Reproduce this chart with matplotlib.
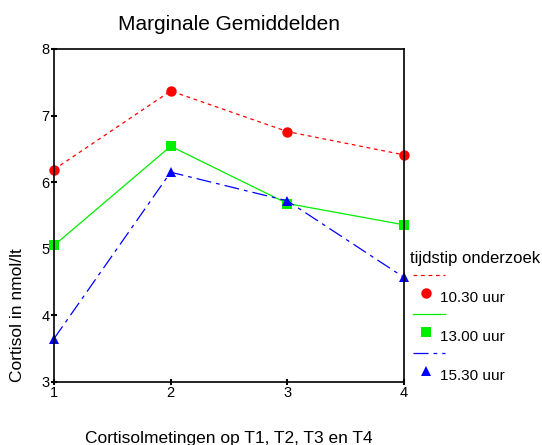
import matplotlib.pyplot as plt
from matplotlib.lines import Line2D

metingen = [1, 2, 3, 4]
uur_1030 = [6.19, 7.37, 6.76, 6.41]
uur_1300 = [5.05, 6.54, 5.68, 5.36]
uur_1530 = [3.65, 6.15, 5.72, 4.57]
labels = ["10.30 uur", "13.00 uur", "15.30 uur"]

plt.rcParams['font.family'] = ['Liberation Sans', 'DejaVu Sans']

fig = plt.figure(figsize=(5.42, 4.45), dpi=100)
ax = fig.add_axes([0.0996, 0.1416, 0.6458, 0.7483])

stijlen = [
    dict(color='red', linestyle=(0, (3, 3)), marker='o', markersize=7.5),
    dict(color='#00ee00', linestyle='-', marker='s', markersize=7),
    dict(color='blue', linestyle=(0, (12, 4, 3, 4)), marker='^', markersize=7.5),
]
reeksen = [uur_1030, uur_1300, uur_1530]
for reeks, st in zip(reeksen, stijlen):
    ax.plot(metingen, reeks, linewidth=0.9, markeredgewidth=0, clip_on=False, **st)

ax.set_xlim(1, 4)
ax.set_ylim(3, 8)
ax.set_xticks(metingen)
ax.set_yticks([3, 4, 5, 6, 7, 8])
ax.tick_params(direction='inout', length=4, width=1.5, labelsize=10.5, pad=1)
for s in ax.spines.values():
    s.set_linewidth(1.2)

W, H = 542, 445
ax.set_title("Marginale Gemiddelden", fontsize=15, pad=14)
ax.set_xlabel("Cortisolmetingen op T1, T2, T3 en T4", fontsize=12.5, labelpad=22)
# y label sits low, flush with the bottom of the axis (SPSS layout)
fig.text(18 / W, 1 - 382 / H, "Cortisol in nmol/lt", fontsize=12.5,
         rotation=90, ha='center', va='bottom')

# legend drawn in figure pixels (SPSS style: line row, then marker + label)
fig.text(410 / W, 1 - 258 / H, "tijdstip onderzoek", fontsize=12, va='center', ha='left')
rij = [275, 314, 353]
for i, (lab, st) in enumerate(zip(labels, stijlen)):
    y0 = rij[i]
    fig.add_artist(Line2D([413 / W, 445 / W], [1 - y0 / H, 1 - y0 / H],
                          color=st['color'], linestyle=st['linestyle'], linewidth=0.9))
    fig.add_artist(Line2D([426 / W], [1 - (y0 + 18) / H], color=st['color'],
                          marker=st['marker'], markersize=st['markersize'],
                          markeredgewidth=0, linestyle='none'))
    fig.text(440 / W, 1 - (y0 + 23) / H, lab, fontsize=11, va='center', ha='left')

fig.savefig("out.png", dpi=100)
